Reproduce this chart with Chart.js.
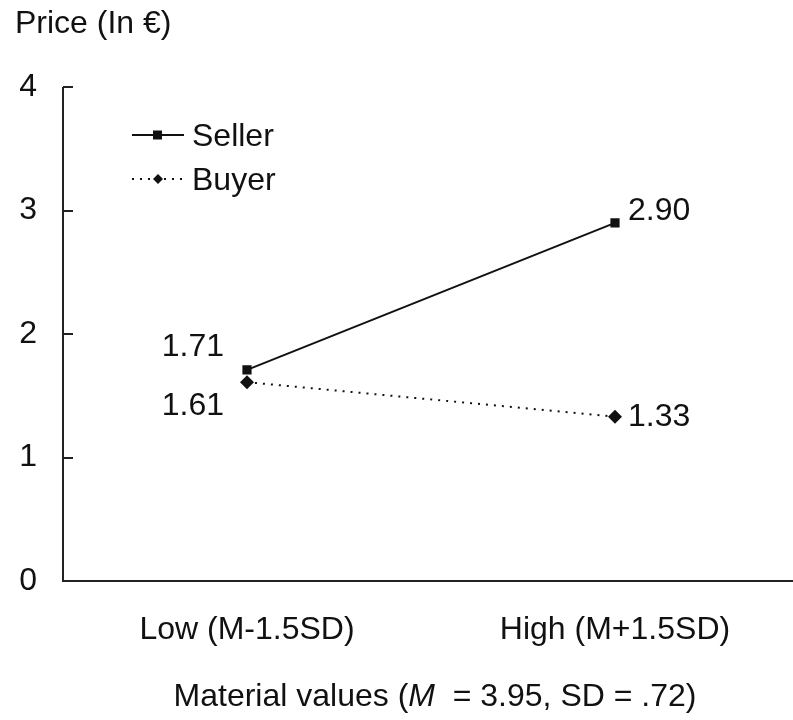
<!DOCTYPE html>
<html>
<head>
<meta charset="utf-8">
<script src="https://cdn.jsdelivr.net/npm/chart.js@4.4.1/dist/chart.umd.min.js"></script>
<style>
  html, body { margin: 0; padding: 0; background: #fff; overflow: hidden; }
  #wrap { width: 793px; height: 720px; overflow: hidden; }
</style>
</head>
<body>
<div id="wrap"><canvas id="chart" width="806" height="720"></canvas></div>
<script>
// data
const categories = ['Low (M-1.5SD)', 'High (M+1.5SD)'];
const seller = [1.71, 2.90];
const buyer = [1.61, 1.33];
const yTicks = [0, 1, 2, 3, 4];

const FONT = '"Liberation Sans", Arial, sans-serif';
const INK = '#111';

// inward tick marks on the y axis + axis lines
const axisPlugin = {
    id: 'axisLines',
    afterDraw(chart) {
        const ctx = chart.ctx, a = chart.chartArea, y = chart.scales.y;
        ctx.save();
        ctx.strokeStyle = '#222';
        ctx.lineWidth = 2;
        ctx.beginPath();
        ctx.moveTo(a.left, y.getPixelForValue(4));
        ctx.lineTo(a.left, a.bottom);
        ctx.lineTo(chart.width, a.bottom);
        yTicks.forEach(v => {
            const py = Math.round(y.getPixelForValue(v));
            ctx.moveTo(a.left, py);
            ctx.lineTo(a.left + 10, py);
        });
        ctx.stroke();
        ctx.restore();
    }
};

// titles, legend and value labels
const textPlugin = {
    id: 'texts',
    afterDraw(chart) {
        const ctx = chart.ctx;
        ctx.save();
        ctx.fillStyle = INK;
        ctx.font = '32px ' + FONT;
        ctx.textBaseline = 'alphabetic';

        // y title
        ctx.textAlign = 'left';
        ctx.fillText('Price (In €)', 15, 33);

        // x title with italic M
        const parts = [['Material values (', ''], ['M', 'italic '], ['  = 3.95, SD = .72)', '']];
        let total = 0;
        parts.forEach(p => { ctx.font = p[1] + '32px ' + FONT; total += ctx.measureText(p[0]).width; });
        let x = 435 - total / 2;
        parts.forEach(p => {
            ctx.font = p[1] + '32px ' + FONT;
            ctx.fillText(p[0], x, 706);
            x += ctx.measureText(p[0]).width;
        });

        // legend
        ctx.font = '32px ' + FONT;
        chart.data.datasets.forEach((ds, i) => {
            const ly = 135 + i * 44;
            ctx.strokeStyle = ds.borderColor;
            ctx.lineWidth = 2;
            ctx.setLineDash(ds.borderDash || []);
            ctx.beginPath();
            ctx.moveTo(132, ly);
            ctx.lineTo(184, ly);
            ctx.stroke();
            ctx.setLineDash([]);
            ctx.fillStyle = INK;
            ctx.beginPath();
            if (ds.pointStyle === 'rect') {
                ctx.rect(153, ly - 4.5, 9, 9);
            } else {
                ctx.moveTo(158, ly - 5); ctx.lineTo(163, ly); ctx.lineTo(158, ly + 5); ctx.lineTo(153, ly);
                ctx.closePath();
            }
            ctx.fill();
            ctx.textBaseline = 'middle';
            ctx.textAlign = 'left';
            ctx.fillText(ds.label, 192, ly + 2);
        });

        // value labels
        ctx.textBaseline = 'middle';
        chart.data.datasets.forEach((ds, di) => {
            const meta = chart.getDatasetMeta(di);
            meta.data.forEach((pt, i) => {
                const txt = ds.data[i].toFixed(2);
                if (i === 0) {
                    ctx.textAlign = 'right';
                    ctx.fillText(txt, pt.x - 23, pt.y + (di === 0 ? -23 : 24));
                } else {
                    ctx.textAlign = 'left';
                    ctx.fillText(txt, pt.x + 13, pt.y + (di === 0 ? -12 : 0));
                }
            });
        });
        ctx.restore();
    }
};

new Chart(document.getElementById('chart'), {
    type: 'line',
    data: {
        labels: categories,
        datasets: [
            {
                label: 'Seller', data: seller,
                borderColor: INK, backgroundColor: INK, borderWidth: 2,
                pointStyle: 'rect', pointRadius: 6.5, pointBorderWidth: 0
            },
            {
                label: 'Buyer', data: buyer,
                borderColor: INK, backgroundColor: INK, borderWidth: 2, borderDash: [2, 6],
                pointStyle: 'rectRot', pointRadius: 7, pointBorderWidth: 0
            }
        ]
    },
    options: {
        responsive: false,
        animation: false,
        layout: { padding: { top: 87, right: 0, left: 0, bottom: 0 } },
        plugins: { legend: { display: false }, tooltip: { enabled: false } },
        scales: {
            x: {
                offset: true,
                border: { display: false },
                grid: { display: false, drawTicks: false },
                ticks: { color: INK, font: { family: FONT, size: 32 }, padding: 30, maxRotation: 0 },
                afterFit: s => { s.height = 139; }
            },
            y: {
                min: 0, max: 4,
                border: { display: false },
                grid: { display: false, drawTicks: false },
                ticks: { color: INK, font: { family: FONT, size: 32 }, padding: 26, stepSize: 1 },
                afterFit: s => { s.width = 63; }
            }
        }
    },
    plugins: [axisPlugin, textPlugin]
});
</script>
</body>
</html>
